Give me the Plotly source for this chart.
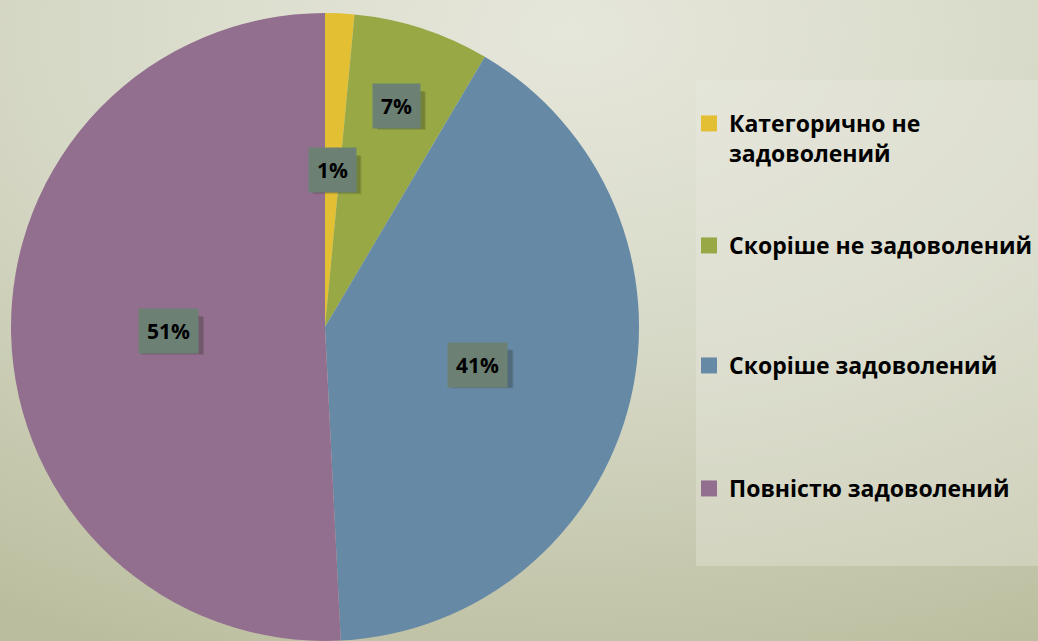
import base64, math
import plotly.graph_objects as go

# ---- data ----
categories = ["Категорично не задоволений", "Скоріше не задоволений",
              "Скоріше задоволений", "Повністю задоволений"]
legend_labels = ["Категорично не<br>задоволений", "Скоріше не задоволений",
                 "Скоріше задоволений", "Повністю задоволений"]
values = [1.5, 7.0, 40.7, 50.8]
value_labels = ["1%", "7%", "41%", "51%"]

# ---- styles ----
colors = ["#E3C033", "#97A845", "#6689A6", "#936F8F"]
label_radius = [0.5, 0.74, 0.5, 0.5]
legend_tops_px = [102, 224, 344, 467]
W, H = 1038, 641
cx_px, cy_px, R_px = 325, 327, 314

svg = f'''<svg xmlns="http://www.w3.org/2000/svg" width="{W}" height="{H}">
<defs><radialGradient id="g" cx="0.55" cy="0.05" r="1.05" fx="0.55" fy="0.05">
<stop offset="0" stop-color="#E6E7DB"/><stop offset="0.5" stop-color="#D6D8C6"/>
<stop offset="1" stop-color="#BBBE9E"/></radialGradient></defs>
<rect width="{W}" height="{H}" fill="url(#g)"/></svg>'''
bg_src = "data:image/svg+xml;base64," + base64.b64encode(svg.encode()).decode()

fig = go.Figure()
fig.add_trace(go.Pie(
    labels=categories, values=values, sort=False, direction="clockwise",
    marker=dict(colors=colors, line=dict(width=0)),
    textinfo="none", hoverinfo="label+percent", showlegend=False,
    domain=dict(x=[(cx_px - R_px) / W, (cx_px + R_px) / W],
                y=[(H - cy_px - R_px) / H, (H - cy_px + R_px) / H]),
))

legend_layout = {}
for i, (lab, col) in enumerate(zip(legend_labels, colors)):
    key = "legend" if i == 0 else f"legend{i + 1}"
    fig.add_trace(go.Scatter(x=[None], y=[None], mode="markers", name=lab,
                             marker=dict(symbol="square", size=16, color=col),
                             legend=key, showlegend=True))
    legend_layout[key] = dict(
        x=689 / W, y=1 - legend_tops_px[i] / H, xanchor="left", yanchor="top",
        bgcolor="rgba(0,0,0,0)", valign="top", itemwidth=30,
        font=dict(family="Open Sans", size=23, color="#000000", weight="bold"),
    )

# value labels
total = sum(values)
cum = 0
for v, txt, rf in zip(values, value_labels, label_radius):
    a = math.radians((cum + v / 2) / total * 360)
    cum += v
    px = cx_px + rf * R_px * math.sin(a)
    py = cy_px - rf * R_px * math.cos(a)
    xp, yp = px / W, 1 - py / H
    half_w = 10 + 7 * len(txt)
    for k, alpha in ((5, 0.12), (4, 0.18)):
        fig.add_shape(type="rect", xref="paper", yref="paper",
                      xsizemode="pixel", ysizemode="pixel", xanchor=xp, yanchor=yp,
                      x0=-half_w + k, x1=half_w + k, y0=-19 - k, y1=19 - k,
                      fillcolor=f"rgba(30,35,20,{alpha})", line=dict(width=0),
                      layer="above")
    fig.add_annotation(
        x=xp, y=yp, xref="paper", yref="paper",
        xanchor="center", yanchor="middle",
        text=f"<b>{txt}</b>", showarrow=False,
        font=dict(family="Open Sans", size=21, color="#000000"),
        bgcolor="#6C8174", borderpad=8,
    )

fig.add_shape(type="rect", xref="paper", yref="paper", layer="below",
              x0=696 / W, x1=1, y0=1 - 566 / H, y1=1 - 80 / H,
              fillcolor="rgba(235,236,226,0.35)", line=dict(width=0))

fig.update_layout(
    width=W, height=H, margin=dict(l=0, r=0, t=0, b=0),
    paper_bgcolor="#D5D7C4", plot_bgcolor="rgba(0,0,0,0)",
    images=[dict(source=bg_src, xref="paper", yref="paper", x=0, y=1,
                 sizex=1, sizey=1, sizing="stretch", layer="below")],
    xaxis=dict(visible=False), yaxis=dict(visible=False),
    **legend_layout,
)
fig.write_html("out.html", config={"displayModeBar": False},
               post_script="document.body.style.margin='0';document.body.style.overflow='hidden';")
